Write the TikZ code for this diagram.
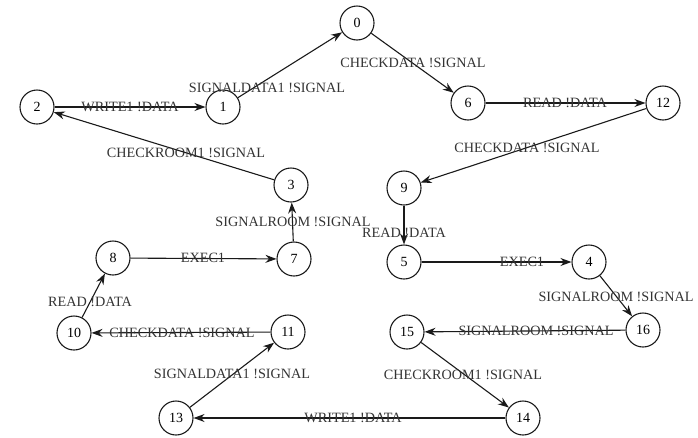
\documentclass[tikz,border=0pt]{standalone}
\usepackage{fontspec}
\setmainfont{Liberation Serif}
\usetikzlibrary{arrows.meta}
\definecolor{Ink}{HTML}{1A1A1A}
\definecolor{Label}{HTML}{333333}
\tikzset{
 state/.style={circle,draw=Ink,line width=1.1pt,minimum size=34pt,inner sep=0pt,font=\fontsize{14}{16}\selectfont},
 trans/.style={-{Stealth[length=11pt,width=8pt]},line width=1.1pt,draw=Ink},
 act/.style={font=\fontsize{14.2}{16}\selectfont,text=Label,inner sep=0pt}
}
\begin{document}
\begin{tikzpicture}[x=1pt,y=-1pt]
\useasboundingbox (0,0) rectangle (698,437);
\foreach \n/\x/\y in {0/357/23,1/223/107,2/37/107,3/291/185,4/589/262,5/404/262,6/468/103,7/294/259,8/113/258,
 9/404/188,10/74/333,11/288/332,12/663/103,13/176/418,14/523/418,15/407/332,16/643/330}
 \node[state] (s\n) at (\x,\y) {\n};
\foreach \a/\b/\x/\y/\t in {2/1/130/107/WRITE1 !DATA,1/0/267/88/SIGNALDATA1 !SIGNAL,0/6/413/63/CHECKDATA !SIGNAL,
 6/12/565/103/READ !DATA,12/9/527/148/CHECKDATA !SIGNAL,3/2/186/153/CHECKROOM1 !SIGNAL,
 7/3/293/222/SIGNALROOM !SIGNAL,9/5/404/233/READ !DATA,8/7/203/258/EXEC1,5/4/522/262/EXEC1,
 10/8/90/302/READ !DATA,4/16/616/297/SIGNALROOM !SIGNAL,11/10/182/333/CHECKDATA !SIGNAL,
 16/15/536/331/SIGNALROOM !SIGNAL,13/11/232/374/SIGNALDATA1 !SIGNAL,15/14/463/375/CHECKROOM1 !SIGNAL,
 14/13/353/418/WRITE1 !DATA} {
 \draw[trans] (s\a) -- (s\b);
 \node[act] (l\a-\b) at (\x,\y) {\t};
}
\end{tikzpicture}
\end{document}
